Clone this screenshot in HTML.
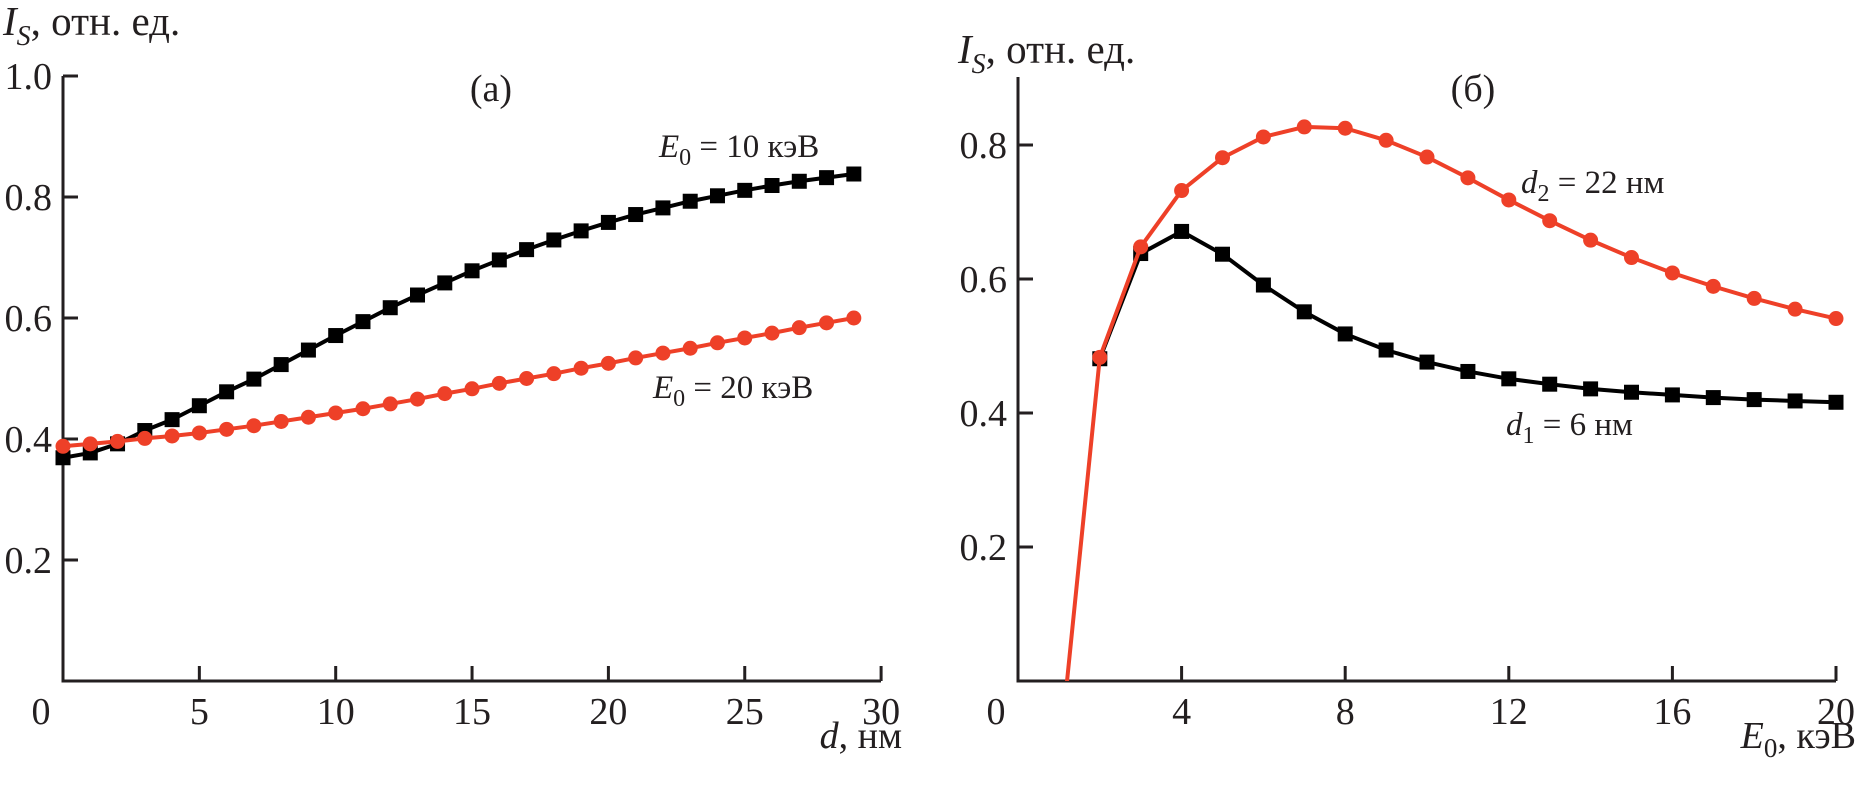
<!DOCTYPE html>
<html><head><meta charset="utf-8"><style>
html,body{margin:0;padding:0;background:#fff;}
svg{display:block;font-family:"Liberation Serif",serif;}
</style></head><body>
<svg id="c" width="1856" height="789" viewBox="0 0 1856 789" xmlns="http://www.w3.org/2000/svg"></svg>
<script>
const leftD = [0,1,2,3,4,5,6,7,8,9,10,11,12,13,14,15,16,17,18,19,20,21,22,23,24,25,26,27,28,29];
const leftBlack = [0.369,0.377,0.392,0.414,0.432,0.455,0.478,0.499,0.523,0.547,0.571,0.594,0.617,0.638,0.658,0.678,0.696,0.713,0.729,0.744,0.758,0.771,0.782,0.793,0.802,0.811,0.819,0.826,0.832,0.838];
const leftRed = [0.388,0.392,0.396,0.401,0.405,0.410,0.416,0.422,0.429,0.436,0.443,0.450,0.458,0.466,0.475,0.483,0.492,0.500,0.508,0.517,0.525,0.534,0.542,0.550,0.559,0.567,0.575,0.584,0.592,0.600];
const leftXTicks = [0,5,10,15,20,25,30];
const leftYTicks = [0.2,0.4,0.6,0.8,1.0];
const rightE = [2,3,4,5,6,7,8,9,10,11,12,13,14,15,16,17,18,19,20];
const rightBlack = [0.481,0.638,0.671,0.637,0.591,0.551,0.518,0.494,0.476,0.462,0.451,0.443,0.436,0.431,0.427,0.423,0.420,0.418,0.416];
const rightRedE = [1,2,3,4,5,6,7,8,9,10,11,12,13,14,15,16,17,18,19,20];
const rightRed = [-0.12,0.483,0.648,0.732,0.781,0.812,0.827,0.825,0.807,0.782,0.751,0.718,0.687,0.658,0.632,0.609,0.589,0.571,0.555,0.541];
const rightXTicks = [0,4,8,12,16,20];
const rightYTicks = [0.2,0.4,0.6,0.8];

const NS="http://www.w3.org/2000/svg";
const svg=document.getElementById('c');
function mk(tag,attrs,parent){const e=document.createElementNS(NS,tag);for(const k in attrs)e.setAttribute(k,attrs[k]);(parent||svg).appendChild(e);return e;}
const RED="#ee4028", INK="#231f20";

function panel(o){
  const g=mk('g',{});
  
  
  const sx=v=>o.x0+(v-o.xmin)*o.kx;
  const sy=v=>o.y0-v*o.ky;
  const clipId=o.name+'-clip';
  const cp=mk('clipPath',{id:clipId},g);
  mk('rect',{x:o.x0,y:o.ytop-10,width:o.xend-o.x0+20,height:o.y0-o.ytop+10},cp);
  const ax=mk('path',{d:`M${o.x0} ${o.ytop}V${o.y0}H${o.xend}`,stroke:INK,'stroke-width':3,fill:'none'},g);
  
  
  o.yt.forEach(v=>{
    const y=sy(v);
    const t=mk('line',{x1:o.x0,x2:o.x0+15,y1:y,y2:y,stroke:INK,'stroke-width':3},g);
    
    
    const l=mk('text',{x:o.x0-11,y:y+13,'font-size':38,'text-anchor':'end',fill:INK},g);
    l.textContent=v.toFixed(1);
    
    
  });
  o.xt.forEach(v=>{
    const x=sx(v);
    if(v!==o.xmin){
      const t=mk('line',{x1:x,x2:x,y1:o.y0,y2:o.y0-15,stroke:INK,'stroke-width':3},g);
      
      
    }
    const l=mk('text',{x:v===o.xmin?x-22:x,y:o.y0+43,'font-size':38,'text-anchor':'middle',fill:INK},g);
    l.textContent=String(v);
    
    
  });
  o.series.forEach(s=>{
    const pts=s.xs.map((x,i)=>[sx(x),sy(s.ys[i])]);
    const pl=mk('polyline',{points:pts.map(p=>p.join(',')).join(' '),fill:'none',stroke:s.color,'stroke-width':4,'stroke-linejoin':'round','clip-path':`url(#${clipId})`},g);
    
    
    pts.forEach(p=>{
      if(p[1]>o.y0)return;
      let m;
      if(s.marker==='sq') m=mk('rect',{x:p[0]-7.5,y:p[1]-7.5,width:15,height:15,fill:s.color},g);
      else m=mk('circle',{cx:p[0],cy:p[1],r:7.5,fill:s.color},g);
      
      
    });
  });
  return g;
}

panel({name:'panel-a',x0:63,xmin:0,kx:27.27,xend:881,y0:681,ky:605,ytop:76,
  xt:leftXTicks,yt:leftYTicks,
  series:[{name:'e0-10kev',xs:leftD,ys:leftBlack,color:'#000',marker:'sq'},
          {name:'e0-20kev',xs:leftD,ys:leftRed,color:RED,marker:'c'}]});
panel({name:'panel-b',x0:1018,xmin:0,kx:40.9,xend:1836,y0:681,ky:670,ytop:77,
  xt:rightXTicks,yt:rightYTicks,
  series:[{name:'d1-6nm',xs:rightE,ys:rightBlack,color:'#000',marker:'sq'},
          {name:'d2-22nm',xs:rightRedE,ys:rightRed,color:RED,marker:'c'}]});

function txt(html,x,y,size,name,anchor){
  const t=mk('text',{x:x,y:y,'font-size':size,fill:INK,'text-anchor':anchor||'start'});
  t.innerHTML=html;
  
  
}
txt('<tspan font-style="italic">I</tspan><tspan font-style="italic" font-size="28" dy="10">S</tspan><tspan dy="-10">, отн. ед.</tspan>',3,35,41,'y-axis-title-a');
txt('<tspan font-style="italic">I</tspan><tspan font-style="italic" font-size="28" dy="10">S</tspan><tspan dy="-10">, отн. ед.</tspan>',958,63,41,'y-axis-title-b');
txt('(а)',491,101,38,'panel-label-a','middle');
txt('(б)',1473,101,38,'panel-label-b','middle');
txt('<tspan font-style="italic">d</tspan>, нм',902,748,38,'x-axis-title-a','end');
txt('<tspan font-style="italic">E</tspan><tspan font-size="27" dy="9">0</tspan><tspan dy="-9">, кэВ</tspan>',1856,748,38,'x-axis-title-b','end');
txt('<tspan font-style="italic">E</tspan><tspan font-size="24" dy="8">0</tspan><tspan dy="-8"> = 10 кэВ</tspan>',659,157,33,'label-e0-10kev');
txt('<tspan font-style="italic">E</tspan><tspan font-size="24" dy="8">0</tspan><tspan dy="-8"> = 20 кэВ</tspan>',653,398,33,'label-e0-20kev');
txt('<tspan font-style="italic">d</tspan><tspan font-size="24" dy="8">2</tspan><tspan dy="-8"> = 22 нм</tspan>',1521,193,33,'label-d2-22nm');
txt('<tspan font-style="italic">d</tspan><tspan font-size="24" dy="8">1</tspan><tspan dy="-8"> = 6 нм</tspan>',1506,435,33,'label-d1-6nm');
</script>
</body></html>
